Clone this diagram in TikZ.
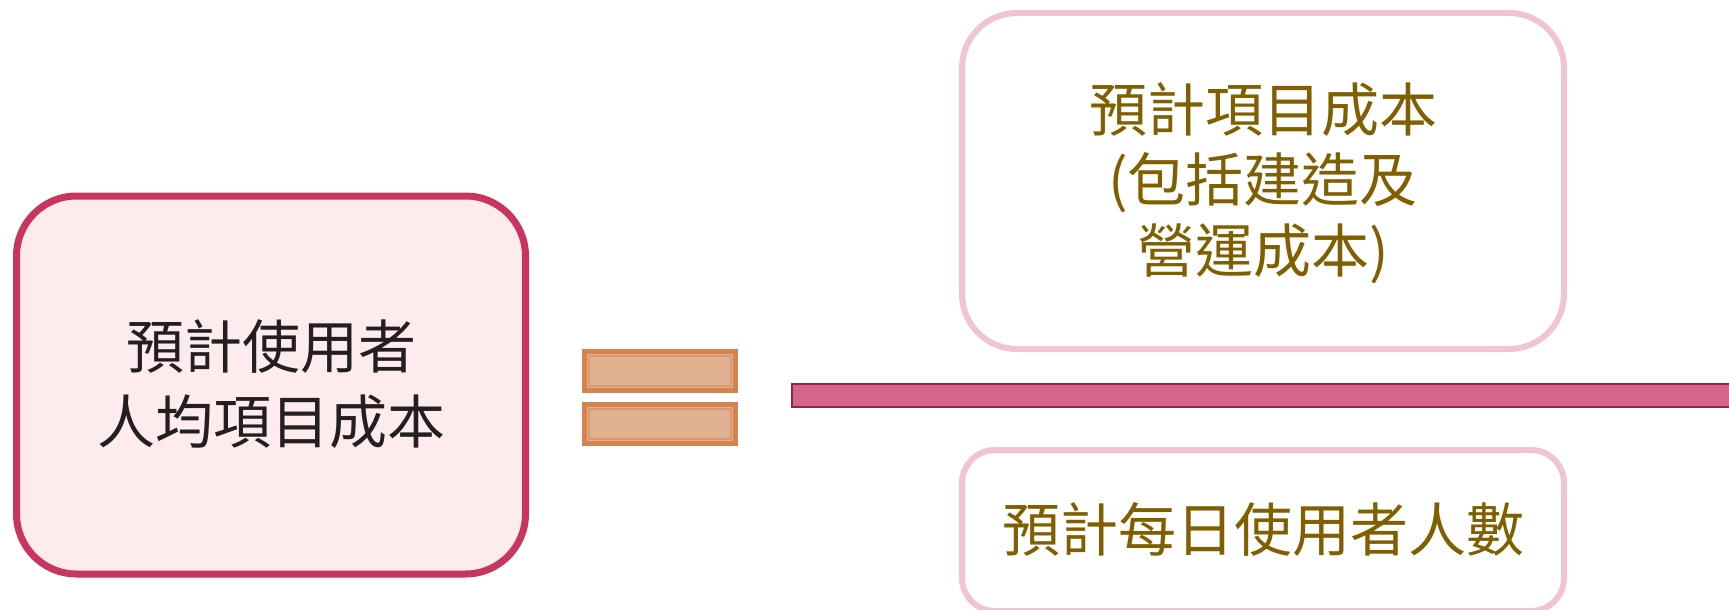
\documentclass[tikz,border=0pt]{standalone}
\usepackage{fontspec}
\newfontfamily\cjk{Noto Sans CJK TC}
\definecolor{mainborder}{HTML}{C8365F}
\definecolor{mainfill}{HTML}{FDEBED}
\definecolor{pinkborder}{HTML}{F0C4D2}
\definecolor{oliveText}{HTML}{7F5F00}
\definecolor{darkText}{HTML}{231F20}
\definecolor{eqborder}{HTML}{D4824E}
\definecolor{eqfill}{HTML}{E2B192}
\definecolor{eqinner}{HTML}{D99A70}
\definecolor{barborder}{HTML}{8E2847}
\definecolor{barfill}{HTML}{D5668A}
\tikzset{
  mainbox/.style={draw=mainborder, fill=mainfill, line width=7pt, rounded corners=60pt},
  termbox/.style={draw=pinkborder, fill=white, line width=6pt},
  label/.style={align=center, inner sep=0pt},
  eqbar/.style={draw=eqborder, fill=eqfill, line width=5pt},
  eqline/.style={draw=eqinner, line width=1.2pt},
  fracbar/.style={draw=barborder, fill=barfill, line width=2.5pt}
}
\begin{document}
\begin{tikzpicture}[x=1pt,y=-1pt]
\useasboundingbox (0,0) rectangle (1729,610);
% left box
\draw[mainbox] (16.5,196) rectangle (525.5,574);
\node[label, text=darkText, font=\cjk\fontsize{58}{75}\selectfont] (lhs) at (271,384) {預計使用者\\人均項目成本};
% equals sign
\draw[eqbar] (584.5,351.5) rectangle (735.5,390.5);
\draw[eqline] (589,356) rectangle (731,386);
\draw[eqbar] (584.5,404.5) rectangle (735.5,443.5);
\draw[eqline] (589,409) rectangle (731,439);
% fraction bar
\draw[fracbar] (792,384) rectangle (1740,407);
% numerator
\draw[termbox, rounded corners=55pt] (962,13) rectangle (1564,349);
\node[label, text=oliveText, font=\cjk\fontsize{58}{70.5}\selectfont] (num) at (1263,183) {預計項目成本\\(包括建造及\\營運成本)};
% denominator
\draw[termbox, rounded corners=33pt] (962,450) rectangle (1564,611);
\node[label, text=oliveText, font=\cjk\fontsize{58}{70}\selectfont] (den) at (1263,529) {預計每日使用者人數};
\end{tikzpicture}
\end{document}
